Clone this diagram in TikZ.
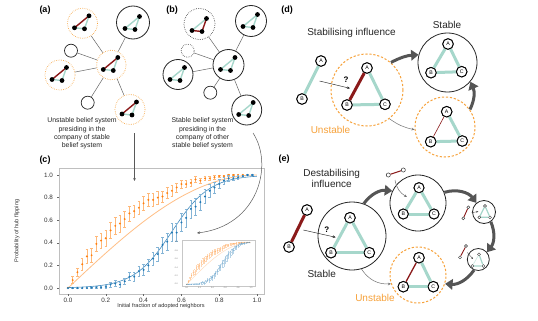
\documentclass[tikz,border=0pt]{standalone}
\usepackage{fontspec}
\setmainfont{Liberation Sans}
\usetikzlibrary{arrows.meta}
\definecolor{tealc}{HTML}{A6D7CB}
\definecolor{redc}{HTML}{8B1A1A}
\definecolor{orc}{HTML}{F7A23B}
\definecolor{plo}{HTML}{FF7F0E}
\definecolor{plb}{HTML}{1F77B4}
\definecolor{arrg}{HTML}{555555}
\def\odata{0/0/0.005, 0.025/0.07/0.03, 0.05/0.14/0.035, 0.075/0.21/0.05, 0.1/0.28/0.06, 0.125/0.29/0.06, 0.15/0.39/0.065, 0.175/0.42/0.065, 0.2/0.44/0.07, 0.225/0.51/0.07, 0.25/0.55/0.075, 0.275/0.57/0.075, 0.3/0.61/0.07, 0.325/0.66/0.065, 0.35/0.68/0.05, 0.375/0.71/0.06, 0.4/0.75/0.06, 0.425/0.78/0.06, 0.45/0.78/0.06, 0.475/0.80/0.055, 0.5/0.81/0.05, 0.525/0.84/0.05, 0.55/0.86/0.05, 0.575/0.89/0.04, 0.6/0.92/0.035, 0.625/0.92/0.03, 0.65/0.93/0.03, 0.675/0.96/0.025, 0.7/0.95/0.025, 0.725/0.97/0.02, 0.75/0.97/0.02, 0.775/0.98/0.015, 0.8/0.99/0.01, 0.825/0.99/0.01, 0.85/1.0/0.008, 0.875/1.0/0.006, 0.9/1.0/0.005, 0.925/1.0/0.004, 0.95/1.0/0.003, 0.975/1.0/0.002}
\def\bdata{0/0/0.002, 0.025/0/0.002, 0.05/0/0.002, 0.075/0/0.002, 0.1/0/0.003, 0.125/0.003/0.004, 0.15/0.005/0.008, 0.175/0.005/0.008, 0.2/0.01/0.015, 0.225/0.03/0.02, 0.25/0.04/0.025, 0.275/0.03/0.025, 0.3/0.06/0.03, 0.325/0.10/0.035, 0.35/0.10/0.04, 0.375/0.15/0.045, 0.4/0.16/0.05, 0.425/0.20/0.055, 0.45/0.26/0.06, 0.475/0.30/0.065, 0.5/0.38/0.07, 0.525/0.41/0.075, 0.55/0.49/0.08, 0.575/0.49/0.08, 0.6/0.58/0.08, 0.625/0.62/0.08, 0.65/0.70/0.08, 0.675/0.72/0.075, 0.7/0.76/0.07, 0.725/0.81/0.06, 0.75/0.86/0.055, 0.775/0.89/0.05, 0.8/0.92/0.04, 0.825/0.95/0.03, 0.85/0.97/0.025, 0.875/0.97/0.02, 0.9/0.98/0.015, 0.925/0.99/0.01, 0.95/1.0/0.005, 0.975/1.0/0.003}
\newcommand\errplot[9]{%
  \foreach \xx/\yy/\ee in #7 {%
    \pgfmathsetmacro\px{#1+#2*\xx}%
    \pgfmathsetmacro\pa{#3-#4*(\yy-\ee)}%
    \pgfmathsetmacro\pb{#3-#4*(\yy+\ee)}%
    \pgfmathsetmacro\pc{#3-#4*\yy}%
    \draw[#5] (\px,\pa) -- (\px,\pb) (\px-#8,\pa) -- (\px+#8,\pa) (\px-#8,\pb) -- (\px+#8,\pb);%
    \fill[#6] (\px,\pc) circle[radius=#9];%
  }}
% triangle of dots: cx cy, colour top-left edge, top-right edge, bottom edge
\newcommand\btri[5]{%
  \draw[line width=1.4pt,#3] (#1+6.5,#2-7.5) -- (#1-8,#2+4.5);
  \draw[line width=1.4pt,#4] (#1+6.5,#2-7.5) -- (#1+2,#2+5.5);
  \draw[line width=1.4pt,#5] (#1-8,#2+4.5) -- (#1+2,#2+5.5);
  \fill (#1+6.5,#2-7.5) circle[radius=2.4] (#1-8,#2+4.5) circle[radius=2.4] (#1+2,#2+5.5) circle[radius=2.4];}
\begin{document}
\begin{tikzpicture}[x=1pt,y=-1pt,
  plbl/.style={font=\bfseries\fontsize{9}{10}\selectfont},
  captxt/.style={font=\fontsize{6.9}{8.3}\selectfont, align=center, text=black!85},
  bigtxt/.style={font=\fontsize{10}{11.5}\selectfont, align=center, text=black!85},
  axtxt/.style={font=\fontsize{5.6}{6}\selectfont, text=black!80},
  ticktxt/.style={font=\fontsize{6.3}{7}\selectfont, text=black!80},
  stab/.style={circle, draw=black!85, line width=0.8pt, inner sep=0pt, fill=white},
  unstdot/.style={circle, draw=orc, line width=0.8pt, dash pattern=on 0.5pt off 1.3pt, inner sep=0pt},
  stabdot/.style={circle, draw=black!85, line width=0.7pt, dash pattern=on 0.5pt off 1.3pt, inner sep=0pt},
  plain/.style={circle, draw=black!85, line width=0.7pt, inner sep=0pt, minimum size=13pt},
  unstd/.style={circle, draw=orc, line width=1pt, dash pattern=on 2.2pt off 1.8pt, inner sep=0pt},
  bigc/.style={circle, draw=black!85, line width=0.8pt, inner sep=0pt},
  ln/.style={circle, draw=black, line width=0.9pt, fill=white, inner sep=0pt, minimum size=10.5pt, font=\fontsize{5.2}{5.5}\selectfont},
  sn/.style={circle, draw=black!80, line width=0.5pt, fill=white, inner sep=0pt, minimum size=4.2pt},
  mn/.style={circle, draw=black!80, line width=0.4pt, fill=white, inner sep=0pt, minimum size=3pt},
  net/.style={draw=black!60, line width=0.5pt},
  tedge/.style={draw=tealc, line width=3pt},
  redge/.style={draw=redc, line width=3pt},
  thickarr/.style={draw=arrg, line width=3pt, -{Triangle[length=7.5pt,width=10.5pt]}},
  thinarr/.style={draw=black!55, line width=0.5pt, -{Stealth[length=3pt,width=2.6pt]}},
  qarr/.style={draw=black!85, line width=0.45pt, -{Stealth[length=3pt,width=2.6pt]}},
]
\useasboundingbox (0,0) rectangle (538,321);
\fill[white] (0,0) rectangle (538,321);

%% ---------------- panel (a)
\node[plbl] (la) at (45,10) {(a)};
\node[unstdot, minimum size=29.4pt] (ahub) at (111.3,65) {};
\node[unstdot, minimum size=30pt] (a1) at (82.5,23.3) {};
\node[stab, minimum size=33pt] (a2) at (133,22.5) {};
\node[plain] (a3) at (71,50.7) {};
\node[unstdot, minimum size=30pt] (a4) at (60,75) {};
\node[plain] (a5) at (87.7,102.7) {};
\node[unstdot, minimum size=30pt] (a6) at (130,109.5) {};
\foreach \n in {a1,a2,a3,a4,a5,a6} \draw[net] (ahub) -- (\n);
\btri{111.3}{65}{redc}{tealc}{tealc}
\btri{82.5}{23.3}{redc}{tealc}{tealc}
\btri{133}{24}{tealc}{tealc}{tealc}
\btri{60}{75}{redc}{tealc}{tealc}
\btri{130}{109.5}{redc}{tealc}{tealc}
\node[captxt] (ta) at (82,133.5) {Unstable belief system\\presiding in the\\company of stable\\belief system};

%% ---------------- panel (b)
\node[plbl] (lb) at (172,10) {(b)};
\node[stab, minimum size=31pt] (bhub) at (228.5,65) {};
\node[stabdot, minimum size=31pt] (b1) at (199.5,24) {};
\node[stab, minimum size=31pt] (b2) at (251,21) {};
\node[stabdot, minimum size=13pt] (b3) at (187.7,50.7) {};
\node[stab, minimum size=30pt] (b4) at (178,74.5) {};
\node[plain] (b5) at (210.3,92.7) {};
\node[stab, minimum size=30pt] (b6) at (246.7,110) {};
\foreach \n in {b1,b2,b3,b4,b5,b6} \draw[net] (bhub) -- (\n);
\btri{228.5}{65}{tealc}{tealc}{tealc}
\btri{200}{26}{tealc}{redc}{redc}
\btri{251}{22}{tealc}{tealc}{tealc}
\btri{178}{75}{tealc}{tealc}{tealc}
\btri{246.7}{110}{tealc}{tealc}{tealc}
\node[captxt] (tb) at (202.5,133.5) {Stable belief system\\presiding in the\\company of other\\stable belief system};

%% ---------------- panel (c)
\node[plbl] (lc) at (45,160) {(c)};
\draw[black!25, line width=0.6pt] (59,168) rectangle (264,294);
\foreach \v/\t in {0/0.0,0.2/0.2,0.4/0.4,0.6/0.6,0.8/0.8,1/1.0} {
  \draw[black!60, line width=0.4pt] ({68+189*\v},294) -- ({68+189*\v},296);
  \node[ticktxt] (xt\t) at ({68+189*\v},300.5) {\t};
  \draw[black!60, line width=0.4pt] (59,{288-113*\v}) -- (57,{288-113*\v});
  \node[ticktxt, anchor=east] (yt\t) at (56.5,{288-113*\v}) {\t};
}
\node[axtxt] (xlab) at (161,306.5) {Initial fraction of adopted neighbors};
\node[axtxt, rotate=90, inner sep=0pt] (ylab) at (17,231) {Probability of hub flipping};
\draw[plo!50, line width=0.8pt] plot[domain=0:1, samples=60] ({68+189*\x},{288-113*sin(90*\x)});
\draw[plb!85, line width=0.6pt] plot[domain=0:1, samples=60] ({68+189*\x},{288-113/(1+exp(-10*(\x-0.55)))});
\errplot{68}{189}{288}{113}{plo!55, line width=0.5pt}{plo}{\odata}{1.3}{1.1}
\errplot{68}{189}{288}{113}{plb!55, line width=0.5pt}{plb}{\bdata}{1.3}{1.1}
% inset
\fill[white] (181.7,240) rectangle (255,286);
\draw[black!22, line width=0.4pt] (181.7,240) rectangle (255,286);
\foreach \v/\t in {0/0.0,0.2/0.2,0.4/0.4,0.6/0.6,0.8/0.8,1/1.0} {
  \node[font=\fontsize{2}{2}\selectfont, text=black!60] (ixt\t) at ({186.7+64.3*\v},288) {\t};
  \node[font=\fontsize{2}{2}\selectfont, text=black!60, anchor=east] (iyt\t) at (181.2,{284.3-42*\v}) {\t};
}
\begin{scope}[opacity=0.45]
\draw[plo!60, line width=0.5pt] plot[domain=0:1, samples=40] ({186.7+64.3*\x},{284.3-42*sin(90*\x)});
\draw[plb!70, line width=0.4pt] plot[domain=0:1, samples=40] ({186.7+64.3*\x},{284.3-42/(1+exp(-10*(\x-0.55)))});
\errplot{186.7}{64.3}{284.3}{42}{plo!70, line width=0.3pt}{plo}{\odata}{0.5}{0.5}
\errplot{186.7}{64.3}{284.3}{42}{plb!70, line width=0.3pt}{plb}{\bdata}{0.5}{0.5}
\end{scope}
% arrows from captions
\coordinate (aarrs) at (134.5,133);
\coordinate (aarre) at (134.5,181);
\draw[thinarr, draw=black!65] (aarrs) -- (aarre);
\coordinate (barrs) at (253,133);
\coordinate (barre) at (197,233);
\draw[thinarr, draw=black!65] (barrs) .. controls (274,165) and (258,226) .. (barre);

%% ---------------- panel (d)
\node[plbl] (ld) at (287,10) {(d)};
\node[bigtxt] (tstab) at (351.5,33) {Stabilising influence};
\node[bigtxt] (tstable) at (447,25) {Stable};
\node[bigtxt, text=orc] (tunst) at (330.5,130) {Unstable};
% free edge
\node[ln] (dA) at (321,61) {A};
\node[ln] (dB) at (302,99) {B};
\draw[tedge] (dA) -- (dB);
\node[ln] at (dA) {A};
\node[ln] at (dB) {B};
% unstable circle
\node[unstd, minimum size=72pt] (dU) at (367,90) {};
\node[ln] (duA) at (367,68) {A};
\node[ln] (duB) at (347,105) {B};
\node[ln] (duC) at (385,104.3) {C};
\draw[redge] (duA) -- (duB);
\draw[tedge] (duA) -- (duC);
\draw[tedge] (duB) -- (duC);
\node[font=\bfseries\fontsize{8}{9}\selectfont] (dq) at (346,80) {?};
\coordinate (dqs) at (319.5,81);
\coordinate (dqe) at (350,88.3);
\draw[qarr] (dqs) -- (dqe);
% stable circle
\node[bigc, minimum size=59pt] (dS) at (447.5,62.5) {};
\node[ln] (dsA) at (448,44) {A};
\node[ln] (dsB) at (431,72.7) {B};
\node[ln] (dsC) at (461.7,71.7) {C};
\draw[tedge] (dsA) -- (dsB);
\draw[tedge] (dsA) -- (dsC);
\draw[tedge] (dsB) -- (dsC);
% second unstable
\node[unstd, minimum size=60pt] (d2) at (445,127) {};
\node[ln] (d2A) at (446.7,111.7) {A};
\node[ln] (d2B) at (430.7,141.7) {B};
\node[ln] (d2C) at (462.3,141) {C};
\draw[draw=redc, line width=0.6pt] (d2A) -- (d2B);
\draw[tedge] (d2A) -- (d2C);
\draw[tedge] (d2B) -- (d2C);
\draw[thickarr] (dU.49) to[bend left=12] (dS.165);
\draw[thickarr] (d2.35) to[bend right=25] (dS.-40);
\draw[thinarr] (dU.-52) to[bend right=12] (d2.185);
% redraw nodes on top
\node[ln] at (duA) {A};\node[ln] at (duB) {B};\node[ln] at (duC) {C};
\node[ln] at (dsA) {A};\node[ln] at (dsB) {B};\node[ln] at (dsC) {C};
\node[ln] at (d2A) {A};\node[ln] at (d2B) {B};\node[ln] at (d2C) {C};

%% ---------------- panel (e)
\node[plbl] (le) at (284,159) {(e)};
\node[bigtxt] (tdest) at (331.7,178.5) {Destabilising\\influence};
\node[bigtxt] (testable) at (321.7,274.3) {Stable};
\node[bigtxt, text=orc] (teunst) at (375,298.3) {Unstable};
% free edge
\node[ln] (eA) at (307,210) {A};
\node[ln] (eB) at (289,247) {B};
\draw[redge] (eA) -- (eB);
\node[ln] at (eA) {A};\node[ln] at (eB) {B};
% big stable
\node[bigc, minimum size=68pt] (eS) at (352,236) {};
\node[ln] (esA) at (350,217.7) {A};
\node[ln] (esB) at (331,252.7) {B};
\node[ln] (esC) at (369.3,252.7) {C};
\draw[tedge] (esA) -- (esB);
\draw[tedge] (esA) -- (esC);
\draw[tedge] (esB) -- (esC);
\node[font=\bfseries\fontsize{8}{9}\selectfont] (eq) at (326.7,229.3) {?};
\coordinate (eqs) at (303.3,230);
\coordinate (eqe) at (335.7,237.3);
\draw[qarr] (eqs) -- (eqe);
% top circle
\node[bigc, minimum size=56pt] (eT) at (418,203) {};
\node[ln, minimum size=10pt] (etA) at (419,187.7) {A};
\node[ln, minimum size=10pt] (etB) at (403.3,214) {B};
\node[ln, minimum size=10pt] (etC) at (434,214) {C};
\draw[tedge] (etA) -- (etB);
\draw[tedge] (etA) -- (etC);
\draw[tedge] (etB) -- (etC);
\node[sn] (etx) at (388.3,175) {};
\node[sn] (ety) at (403.3,170) {};
\draw[redc, line width=1pt] (etx) -- (ety);
\coordinate (etas) at (395,180);
\coordinate (etae) at (407,197);
\draw[thinarr] (etas) to[bend right=25] (etae);
% small circle 1
\node[bigc, minimum size=23pt] (e1) at (484,212) {};
\node[mn] (e1a) at (485,206) {};
\node[mn] (e1b) at (479.3,217.3) {};
\node[mn] (e1c) at (490,217.3) {};
\draw[tealc, line width=1.2pt] (e1a) -- (e1b) (e1a) -- (e1c) (e1b) -- (e1c);
\node[mn] (e1x) at (463.3,218.3) {};
\node[mn] (e1y) at (468.3,207.3) {};
\draw[redc, line width=0.9pt] (e1x) -- (e1y);
\coordinate (e1s) at (471.7,212.7);
\coordinate (e1e) at (478.3,211.5);
\draw[draw=black!70, line width=0.35pt, -{Stealth[length=2pt,width=1.8pt]}] (e1s) -- (e1e);
% small circle 2
\node[bigc, minimum size=22pt] (e2) at (478.3,259.5) {};
\node[mn] (e2a) at (479,254.3) {};
\node[mn] (e2b) at (472.3,266) {};
\node[mn] (e2c) at (483.3,266) {};
\draw[tealc, line width=1.2pt] (e2a) -- (e2c) (e2b) -- (e2c);
\draw[tealc!60, line width=0.6pt] (e2a) -- (e2b);
\node[mn] (e2x) at (460,257.3) {};
\node[mn] (e2y) at (466,246) {};
\draw[redc, line width=0.9pt] (e2x) -- (e2y);
\coordinate (e2s) at (467.3,252.5);
\coordinate (e2e) at (473,259);
\draw[draw=black!70, line width=0.35pt, -{Stealth[length=2pt,width=1.8pt]}] (e2s) -- (e2e);
% unstable
\node[unstd, minimum size=56pt] (eU) at (418,275) {};
\node[ln] (euA) at (419,257.7) {A};
\node[ln] (euB) at (403.3,286.7) {B};
\node[ln] (euC) at (433.3,286.7) {C};
\draw[draw=redc, line width=1.3pt] (euA) -- (euB);
\draw[tedge] (euA) -- (euC);
\draw[tedge] (euB) -- (euC);
% arrows
\draw[thickarr] (eS.70) to[bend left=30] (eT.155);
\draw[thickarr] (eT.22) to[bend left=35] (e1.130);
\draw[thickarr] (e1.-55) to[bend left=30] (e2.40);
\draw[thickarr] (e2.-112) to[bend left=30] (eU.-18);
\draw[thinarr] (eS.-74) to[bend right=30] (eU.-162);
% nodes on top
\node[ln] at (esA) {A};\node[ln] at (esB) {B};\node[ln] at (esC) {C};
\node[ln, minimum size=10pt] at (etA) {A};\node[ln, minimum size=10pt] at (etB) {B};\node[ln, minimum size=10pt] at (etC) {C};
\node[ln] at (euA) {A};\node[ln] at (euB) {B};\node[ln] at (euC) {C};
\end{tikzpicture}
\end{document}
